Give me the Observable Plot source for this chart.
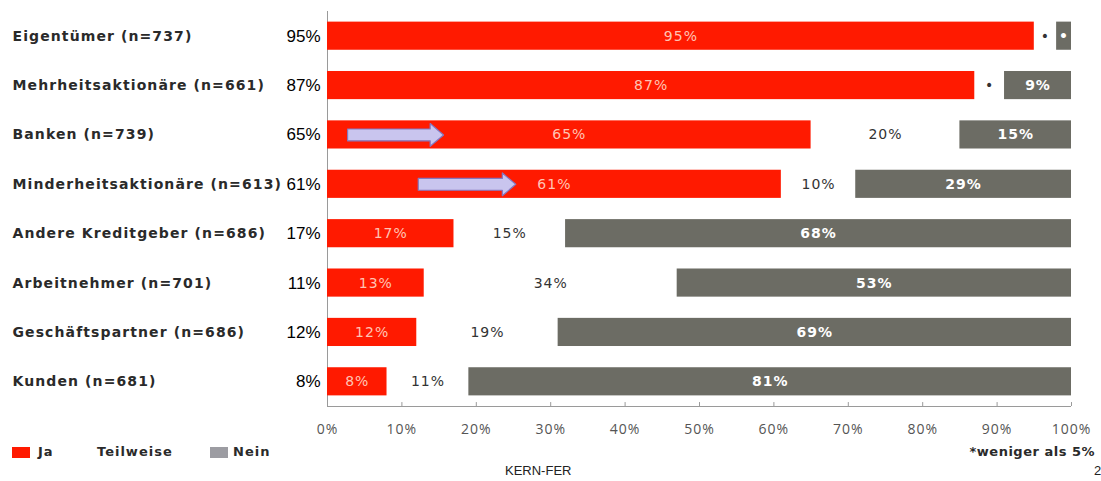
<!DOCTYPE html>
<html>
<head>
<meta charset="utf-8">
<script src="https://cdn.jsdelivr.net/npm/d3@7"></script>
<script src="https://cdn.jsdelivr.net/npm/@observablehq/plot@0.6"></script>
<style>
  html, body { margin: 0; padding: 0; background: #fff; }
  #wrap { position: relative; width: 1101px; height: 481px; overflow: hidden; }
  #chart { position: absolute; left: 0; top: 0; }
  .lg { position: absolute; font-family: "DejaVu Sans", sans-serif; font-weight: bold; font-size: 13px; color: #2a2a2a; letter-spacing: 1px; }
  .sw { position: absolute; width: 18px; height: 11px; }
  .foot { position: absolute; font-family: "Liberation Sans", Arial, sans-serif; font-size: 13px; color: #222; }
</style>
</head>
<body>
<div id="wrap">
  <div id="chart"></div>
  <div class="sw" style="left:12px;top:447px;background:#ff1a00"></div>
  <div class="lg" style="left:38px;top:444px">Ja</div>
  <div class="lg" style="left:97px;top:444px">Teilweise</div>
  <div class="sw" style="left:210px;top:447px;background:#9c9ca2"></div>
  <div class="lg" style="left:233px;top:444px">Nein</div>
  <div class="lg" style="right:6px;top:444px;letter-spacing:0.5px">*weniger als 5%</div>
  <div class="foot" style="left:505px;top:463px">KERN-FER</div>
  <div class="foot" style="left:1094px;top:463px">2</div>
</div>
<script>
const categories = [
  "Eigentümer (n=737)",
  "Mehrheitsaktionäre (n=661)",
  "Banken (n=739)",
  "Minderheitsaktionäre (n=613)",
  "Andere Kreditgeber (n=686)",
  "Arbeitnehmer (n=701)",
  "Geschäftspartner (n=686)",
  "Kunden (n=681)"
];
const ja        = [95, 87, 65, 61, 17, 13, 12, 8];
const teilweise = [3, 4, 20, 10, 15, 34, 19, 11];
const nein      = [2, 9, 15, 29, 68, 53, 69, 81];
const jaLabels   = ["95%", "87%", "65%", "61%", "17%", "13%", "12%", "8%"];
const teilLabels = ["•", "•", "20%", "10%", "15%", "34%", "19%", "11%"];
const neinLabels = ["•", "9%", "15%", "29%", "68%", "53%", "69%", "81%"];
const sideLabels = ["95%", "87%", "65%", "61%", "17%", "11%", "12%", "8%"];
const arrowRows  = [2, 3];
const arrowStart = [2.7, 12.2];
const arrowEnd   = [15.6, 25.3];
const xTicks = [0, 10, 20, 30, 40, 50, 60, 70, 80, 90, 100];
const xTickLabels = ["0%", "10%", "20%", "30%", "40%", "50%", "60%", "70%", "80%", "90%", "100%"];

const RED = "#ff1a00", GRAY = "#6c6c64";
const half = 0.285;

const rows = categories.map((c, i) => ({i, c, side: sideLabels[i]}));
const segs = [];
categories.forEach((c, i) => {
  segs.push({i, key: "Ja", x1: 0, x2: ja[i], label: jaLabels[i]});
  segs.push({i, key: "Teilweise", x1: ja[i], x2: ja[i] + teilweise[i], label: teilLabels[i]});
  segs.push({i, key: "Nein", x1: ja[i] + teilweise[i], x2: ja[i] + teilweise[i] + nein[i], label: neinLabels[i]});
});
const ticks = xTicks.map((t, k) => ({t, label: xTickLabels[k]}));

// arrow polygons built from the annotation arrays
const arrowPts = [];
arrowRows.forEach((r, k) => {
  const a = arrowStart[k], b = arrowEnd[k], h = b - 1.8;
  const pts = [[a, r - 0.12], [h, r - 0.12], [h, r - 0.23], [b, r], [h, r + 0.23], [h, r + 0.12], [a, r + 0.12], [a, r - 0.12]];
  pts.forEach(([x, y]) => arrowPts.push({k, x, y}));
});

const catFont = "DejaVu Sans, sans-serif";
const plot = Plot.plot({
  width: 1101,
  height: 445,
  marginLeft: 327,
  marginRight: 30,
  marginTop: 11,
  marginBottom: 39,
  x: {domain: [0, 100], axis: null},
  y: {domain: [7.5, -0.5], axis: null},
  style: {background: "transparent"},
  marks: [
    Plot.ruleX([0], {y1: -0.5, y2: 7.5, stroke: "#9a9a9a"}),
    Plot.ruleY([7.5], {stroke: "#9a9a9a"}),
    Plot.ruleX(ticks, {x: "t", y1: 7.5, y2: 7.42, stroke: "#9a9a9a"}),
    Plot.rect(segs.filter(d => d.key === "Ja"), {x1: "x1", x2: "x2", y1: d => d.i - half, y2: d => d.i + half, fill: RED}),
    Plot.rect(segs.filter(d => d.key === "Nein"), {x1: "x1", x2: "x2", y1: d => d.i - half, y2: d => d.i + half, fill: GRAY}),
    Plot.line(arrowPts, {x: "x", y: "y", z: "k", fill: "#c9c5ee", stroke: "#8478c0", strokeWidth: 1.2, curve: "linear"}),
    Plot.text(segs.filter(d => d.key === "Ja"), {x: d => (d.x1 + d.x2) / 2, y: "i", text: "label", fill: "#ffc4b4", fontFamily: catFont, fontSize: 14, ariaDescription: "inlab"}),
    Plot.text(segs.filter(d => d.key === "Teilweise"), {x: d => (d.x1 + d.x2) / 2, y: "i", text: "label", fill: "#333", fontFamily: catFont, fontSize: 14, ariaDescription: "inlab"}),
    Plot.text(segs.filter(d => d.key === "Nein"), {x: d => (d.x1 + d.x2) / 2, y: "i", text: "label", fill: "#ffffff", fontFamily: catFont, fontWeight: "bold", fontSize: 14, ariaDescription: "inlab"}),
    Plot.text(rows, {y: "i", text: "c", frameAnchor: "left", textAnchor: "start", dx: -315, fill: "#2a2a2a", fontFamily: catFont, fontWeight: "bold", fontSize: 14, ariaDescription: "cats"}),
    Plot.text(rows, {y: "i", text: "side", frameAnchor: "left", textAnchor: "end", dx: -7, fill: "#000", fontFamily: "Liberation Sans, Arial, sans-serif", fontSize: 17}),
    Plot.text(ticks, {x: "t", y: 7.5, text: "label", dy: 23, fill: "#555", fontFamily: "Open Sans, sans-serif", fontSize: 14, ariaDescription: "ticklab"})
  ]
});
document.getElementById("chart").appendChild(plot);
d3.select(plot).selectAll('g[aria-description="cats"] text').style("letter-spacing", "1.1px");
d3.select(plot).selectAll('g[aria-description="inlab"] text').style("letter-spacing", "1px");
d3.select(plot).selectAll('g[aria-description="ticklab"] text').style("letter-spacing", "1px");
</script>
</body>
</html>
